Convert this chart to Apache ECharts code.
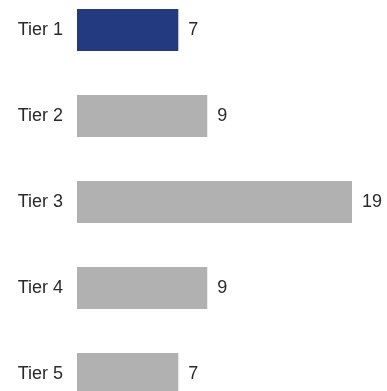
<!DOCTYPE html>
<html>
<head>
<meta charset="utf-8">
<script src="https://cdn.jsdelivr.net/npm/echarts@6/dist/echarts.min.js"></script>
<style>
  html, body { margin: 0; padding: 0; background: #ffffff; }
  #chart { width: 387px; height: 391px; }
</style>
</head>
<body>
<div id="chart"></div>
<script>
// Tier categories and their counts
const tiers = ['Tier 1', 'Tier 2', 'Tier 3', 'Tier 4', 'Tier 5'];
const counts = [7, 9, 19, 9, 7];
const highlightTier = 'Tier 1';

const HIGHLIGHT = '#233a80';
const MUTED = '#b1b1b1';
const TEXT = '#2a2a2a';

const chart = echarts.init(document.getElementById('chart'), null, { renderer: 'canvas' });

chart.setOption({
  animation: false,
  grid: {
    left: 77, right: 35, top: -13, height: 430,
    containLabel: false,
    outerBoundsMode: 'none'
  },
  xAxis: {
    type: 'value',
    min: 0,
    max: 19,
    show: false
  },
  yAxis: {
    type: 'category',
    data: tiers,
    inverse: true,
    axisLine: { show: false },
    axisTick: { show: false },
    splitLine: { show: false },
    axisLabel: {
      margin: 14,
      color: TEXT,
      fontSize: 18,
      fontFamily: 'Liberation Sans, Arial, sans-serif'
    }
  },
  series: [{
    type: 'bar',
    barWidth: 42,
    data: counts.map((v, i) => ({
      value: v,
      itemStyle: { color: tiers[i] === highlightTier ? HIGHLIGHT : MUTED }
    })),
    label: {
      show: true,
      position: 'right',
      distance: 10,
      color: TEXT,
      fontSize: 18,
      fontFamily: 'Liberation Sans, Arial, sans-serif'
    }
  }]
});
</script>
</body>
</html>
